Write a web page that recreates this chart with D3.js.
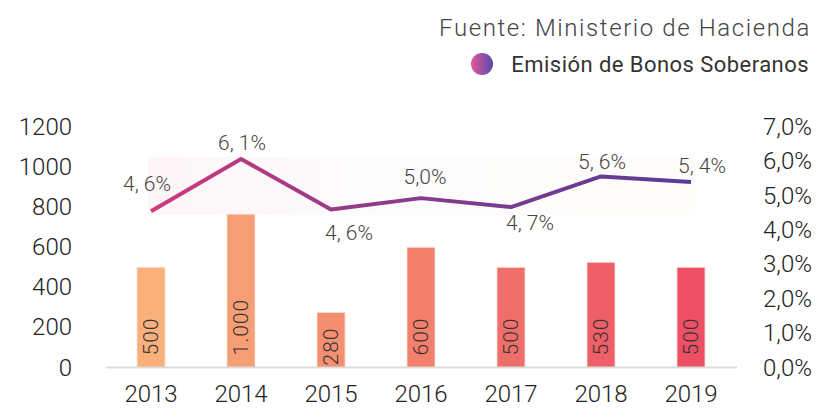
<!DOCTYPE html>
<html>
<head>
<meta charset="utf-8">
<script src="https://cdn.jsdelivr.net/npm/d3@7"></script>
<style>
  body { margin: 0; background: #fff; }
  text { font-family: Roboto, "DejaVu Sans", sans-serif; }
</style>
</head>
<body>
<div id="chart"></div>
<script>
// data
var years = ["2013", "2014", "2015", "2016", "2017", "2018", "2019"];
// bar heights as drawn (the 2014 bar is drawn short of its 1.000 label in the source)
var bonos = [500, 765, 275, 600, 500, 525, 500];
var bonosLabels = ["500", "1.000", "280", "600", "500", "530", "500"];
var deficit = [4.55, 6.07, 4.6, 4.93, 4.67, 5.56, 5.4];
var deficitLabels = ["4, 6%", "6, 1%", "4, 6%", "5,0%", "4, 7%", "5, 6%", "5, 4%"];
var leftTicks = [0, 200, 400, 600, 800, 1000, 1200];
var rightTicks = [0, 1, 2, 3, 4, 5, 6, 7];
var barColors = ["#f9b07b", "#f69e75", "#f58f71", "#f37f6d", "#f16f6b", "#ef5f68", "#ed4f64"];

var width = 823, height = 410;
var yBase = 367.5, yTop = 127;

var svg = d3.select("#chart").append("svg")
    .attr("width", width)
    .attr("height", height);

var defs = svg.append("defs");
var lg = defs.append("linearGradient").attr("id", "lineGrad")
    .attr("gradientUnits", "userSpaceOnUse")
    .attr("x1", 148).attr("x2", 695).attr("y1", 0).attr("y2", 0);
lg.append("stop").attr("offset", "0%").attr("stop-color", "#cf3a7c");
lg.append("stop").attr("offset", "45%").attr("stop-color", "#8c3a8c");
lg.append("stop").attr("offset", "100%").attr("stop-color", "#583c98");

var cg = defs.append("linearGradient").attr("id", "dotGrad");
cg.append("stop").attr("offset", "0%").attr("stop-color", "#e5589a");
cg.append("stop").attr("offset", "100%").attr("stop-color", "#5748ae");

var bg = defs.append("linearGradient").attr("id", "bandGrad");
bg.append("stop").attr("offset", "0%").attr("stop-color", "#fdf6f9");
bg.append("stop").attr("offset", "50%").attr("stop-color", "#fcfcfc");
bg.append("stop").attr("offset", "100%").attr("stop-color", "#fefcf8");

var x = d3.scaleBand().domain(years).range([106, 736]).padding(0);
var yL = d3.scaleLinear().domain([0, 1200]).range([yBase, yTop]);
var yR = d3.scaleLinear().domain([0, 7]).range([yBase, yTop]);
var cx = function (d) { return x(d) + x.bandwidth() / 2; };
var barW = 28;

// header
svg.append("text")
    .attr("x", 811).attr("y", 36)
    .attr("text-anchor", "end")
    .attr("font-size", 24).attr("font-weight", 300)
    .attr("letter-spacing", 1.6)
    .attr("fill", "#444")
    .text("Fuente: Ministerio de Hacienda");

svg.append("circle")
    .attr("cx", 482).attr("cy", 64).attr("r", 11)
    .attr("fill", "url(#dotGrad)");
svg.append("text")
    .attr("x", 809).attr("y", 72)
    .attr("text-anchor", "end")
    .attr("font-size", 22)
    .attr("letter-spacing", 0.45)
    .attr("fill", "#333")
    .text("Emisión de Bonos Soberanos");

// pale band behind the line
svg.append("rect")
    .attr("x", 148).attr("y", 157)
    .attr("width", 547).attr("height", 58)
    .attr("fill", "url(#bandGrad)");

// bars
svg.selectAll("rect.bar")
    .data(years)
    .enter()
    .append("rect")
    .attr("class", "bar")
    .attr("x", function (d) { return cx(d) - barW / 2; })
    .attr("y", function (d, i) { return yL(bonos[i]); })
    .attr("width", barW)
    .attr("height", function (d, i) { return yBase - yL(bonos[i]); })
    .attr("fill", function (d, i) { return barColors[i]; })
    .attr("stroke", "#fde0d4")
    .attr("stroke-width", 0.8);

// bar labels, rotated
svg.selectAll("text.barlab")
    .data(years)
    .enter()
    .append("text")
    .attr("class", "barlab")
    .attr("transform", function (d, i) {
        var h = yBase - yL(bonos[i]);
        var yy = h < 60 ? yBase - 2 : yBase - 12;
        return "translate(" + (cx(d) + 7) + "," + yy + ") rotate(-90)";
    })
    .attr("font-size", 21).attr("font-weight", 300)
    .attr("letter-spacing", 1)
    .attr("fill", "#333")
    .text(function (d, i) { return bonosLabels[i]; });

// axis baseline
svg.append("line")
    .attr("x1", 106).attr("x2", 737)
    .attr("y1", yBase).attr("y2", yBase)
    .attr("stroke", "#dcdcdc").attr("stroke-width", 2);

// line
var line = d3.line()
    .x(function (d, i) { return cx(years[i]); })
    .y(function (d) { return yR(d); });
svg.append("path")
    .datum(deficit)
    .attr("d", line)
    .attr("fill", "none")
    .attr("stroke", "url(#lineGrad)")
    .attr("stroke-width", 4)
    .attr("stroke-linejoin", "round");

// line labels: offsets from the points
var labOff = [[-4, -27], [1, -16], [18, 24], [4, -21], [19, 16], [1, -14], [11, -16]];
svg.selectAll("text.linelab")
    .data(years)
    .enter()
    .append("text")
    .attr("class", "linelab")
    .attr("x", function (d, i) { return cx(d) + labOff[i][0]; })
    .attr("y", function (d, i) { return yR(deficit[i]) + labOff[i][1] + 7; })
    .attr("text-anchor", "middle")
    .attr("font-size", 21).attr("font-weight", 300)
    .attr("fill", "#444")
    .text(function (d, i) { return deficitLabels[i]; });

// left axis labels
svg.selectAll("text.ltick")
    .data(leftTicks)
    .enter()
    .append("text")
    .attr("class", "ltick")
    .attr("x", 72)
    .attr("y", function (d) { return yL(d) + 8; })
    .attr("text-anchor", "end")
    .attr("font-size", 24).attr("font-weight", 300)
    .attr("fill", "#222")
    .text(function (d) { return d; });

// right axis labels
svg.selectAll("text.rtick")
    .data(rightTicks)
    .enter()
    .append("text")
    .attr("class", "rtick")
    .attr("x", 812)
    .attr("y", function (d) { return yR(d) + 8; })
    .attr("text-anchor", "end")
    .attr("font-size", 24).attr("font-weight", 300)
    .attr("fill", "#222")
    .text(function (d) { return d.toFixed(1).replace(".", ",") + "%"; });

// year labels
svg.selectAll("text.year")
    .data(years)
    .enter()
    .append("text")
    .attr("class", "year")
    .attr("x", function (d) { return cx(d); })
    .attr("y", 402)
    .attr("text-anchor", "middle")
    .attr("font-size", 24).attr("font-weight", 300)
    .attr("fill", "#222")
    .text(function (d) { return d; });
</script>
</body>
</html>
